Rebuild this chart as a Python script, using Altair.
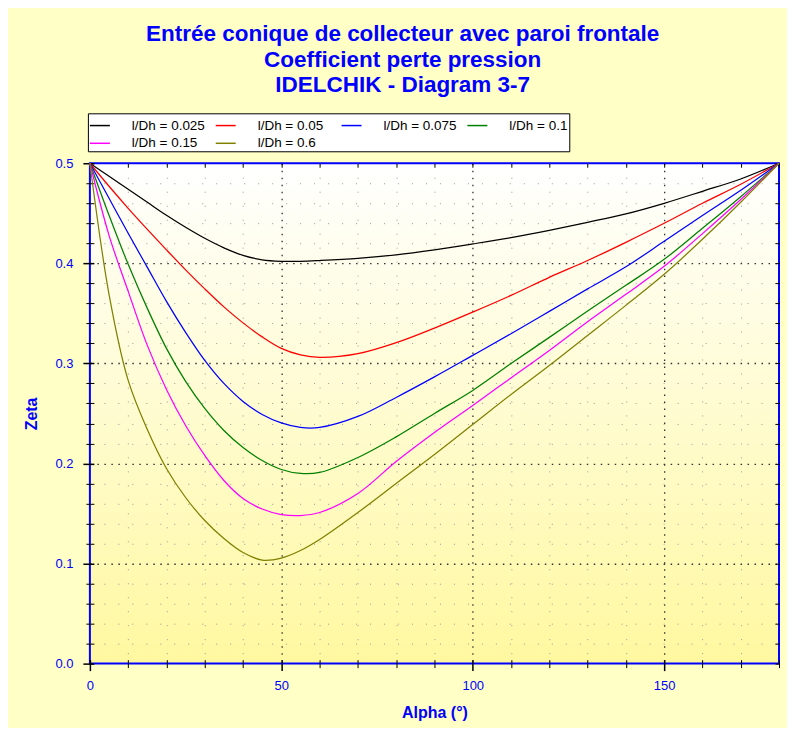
import altair as alt
import pandas as pd

# ---- data ----
alpha = [0, 5, 10, 15, 20, 25, 30, 35, 40, 45, 50, 55, 60, 70, 80, 90, 100, 110, 120, 130, 140, 150, 160, 170, 180]

series_names = ["l/Dh = 0.025", "l/Dh = 0.05", "l/Dh = 0.075", "l/Dh = 0.1", "l/Dh = 0.15", "l/Dh = 0.6"]

zeta_0025 = [0.5, 0.487, 0.474, 0.461, 0.448, 0.436, 0.425, 0.4155, 0.408, 0.4035, 0.402, 0.402, 0.4028, 0.405, 0.4085,
             0.4135, 0.4194, 0.4257, 0.433, 0.441, 0.4494, 0.46, 0.472, 0.4843, 0.5]
zeta_005 = [0.5, 0.477, 0.455, 0.434, 0.4135, 0.3935, 0.3745, 0.3565, 0.3405, 0.3265, 0.315, 0.3085, 0.306, 0.3097, 0.3207,
            0.3353, 0.3513, 0.368, 0.386, 0.4028, 0.421, 0.44, 0.46, 0.479, 0.5]
zeta_0075 = [0.5, 0.465, 0.43, 0.396, 0.362, 0.331, 0.303, 0.28, 0.262, 0.249, 0.2405, 0.236, 0.236, 0.247, 0.266,
             0.2865, 0.308, 0.3297, 0.352, 0.3745, 0.3965, 0.422, 0.4477, 0.473, 0.5]
zeta_01 = [0.5, 0.448, 0.399, 0.355, 0.315, 0.282, 0.255, 0.233, 0.216, 0.203, 0.194, 0.19, 0.191, 0.206, 0.2266,
           0.25, 0.273, 0.2998, 0.326, 0.3524, 0.378, 0.404, 0.435, 0.4666, 0.5]
zeta_015 = [0.5, 0.428, 0.372, 0.318, 0.274, 0.238, 0.208, 0.183, 0.165, 0.1545, 0.149, 0.148, 0.151, 0.17, 0.202,
            0.231, 0.258, 0.2855, 0.313, 0.3417, 0.369, 0.397, 0.4297, 0.4638, 0.5]
zeta_06 = [0.5, 0.369, 0.283, 0.234, 0.195, 0.166, 0.143, 0.125, 0.111, 0.1035, 0.1055, 0.113, 0.124, 0.151, 0.18,
           0.209, 0.239, 0.269, 0.298, 0.328, 0.358, 0.389, 0.424, 0.461, 0.5]

colors = ["#000000", "#FF0000", "#0000FF", "#008000", "#FF00FF", "#808000"]

x_ticks = list(range(0, 181, 10))
y_ticks = [round(i * 0.02, 2) for i in range(26)]

title_lines = ["Entrée conique de collecteur avec paroi frontale",
               "Coefficient perte pression",
               "IDELCHIK - Diagram 3-7"]

rows = []
for name, vals in zip(series_names, [zeta_0025, zeta_005, zeta_0075, zeta_01, zeta_015, zeta_06]):
    for a, z in zip(alpha, vals):
        rows.append({"alpha": a, "zeta": z, "series": name})
df = pd.DataFrame(rows)

BLUE = "#0000FF"
FONT = "Liberation Sans"

major_x = "datum.value % 50 === 0"
major_y = "abs(datum.value * 10 - round(datum.value * 10)) < 0.001"
edge_x = "datum.value === 0 || datum.value === 180"
edge_y = "datum.value === 0 || datum.value === 0.5"

x_scale = alt.Scale(domain=[0, 180], nice=False, zero=False)
y_scale = alt.Scale(domain=[0, 0.5], nice=False)

x_axis = alt.Axis(
    orient="bottom", values=x_ticks, domain=False, offset=-4,
    tickColor="black",
    tickSize={"condition": {"test": major_x, "value": 11}, "value": 8},
    tickWidth={"condition": {"test": major_x, "value": 1.5}, "value": 1},
    labelExpr="datum.value % 50 === 0 ? datum.label : ''",
    labelColor=BLUE, labelFont=FONT, labelFontSize=13, labelPadding=9,
    labelFlush=False,
    grid=True,
    gridColor={"condition": {"test": major_x, "value": "#333333"}, "value": "#9a9a9a"},
    gridDash={"condition": {"test": major_x, "value": [1.5, 5.5]}, "value": [1, 13]},
    gridWidth={"condition": {"test": major_x, "value": 1.3}, "value": 1},
    gridOpacity={"condition": {"test": edge_x, "value": 0}, "value": 1},
    title="Alpha (°)", titleColor=BLUE, titleFont=FONT, titleFontSize=16, titleFontWeight="bold",
    titlePadding=12,
)

y_axis = alt.Axis(
    orient="left", values=y_ticks, domain=False, offset=-4,
    tickColor="black",
    tickSize={"condition": {"test": major_y, "value": 11}, "value": 8},
    tickWidth={"condition": {"test": major_y, "value": 1.5}, "value": 1},
    labelExpr="(abs(datum.value * 10 - round(datum.value * 10)) < 0.001) ? format(datum.value, '.1f') : ''",
    labelColor=BLUE, labelFont=FONT, labelFontSize=13, labelPadding=10,
    labelFlush=False,
    grid=True,
    gridColor={"condition": {"test": major_y, "value": "#333333"}, "value": "#9a9a9a"},
    gridDash={"condition": {"test": major_y, "value": [1.5, 5.5]}, "value": [1, 13]},
    gridWidth={"condition": {"test": major_y, "value": 1.3}, "value": 1},
    gridOpacity={"condition": {"test": edge_y, "value": 0}, "value": 1},
    title="Zeta", titleColor=BLUE, titleFont=FONT, titleFontSize=16, titleFontWeight="bold",
    titlePadding=15,
)

lines = alt.Chart(df).mark_line(strokeWidth=1.25, interpolate="catmull-rom").encode(
    x=alt.X("alpha:Q", scale=x_scale, axis=x_axis),
    y=alt.Y("zeta:Q", scale=y_scale, axis=y_axis),
    color=alt.Color(
        "series:N", sort=series_names,
        scale=alt.Scale(domain=series_names, range=colors),
        legend=alt.Legend(
            orient="none", legendX=-2, legendY=-50, columns=4, direction="horizontal",
            gridAlign="all",
            title=None, fillColor="white", strokeColor="black", padding=1,
            symbolType="stroke", symbolSize=400, symbolStrokeWidth=1.5,
            labelFont=FONT, labelFontSize=13.5, labelColor="black",
            rowPadding=0, columnPadding=7, labelOffset=21,
        ),
    ),
    order=alt.Order("alpha:Q"),
)

mirror = alt.Chart(df).mark_line(opacity=0).encode(
    x=alt.X("alpha:Q", scale=x_scale,
            axis=alt.Axis(orient="top", values=x_ticks, domain=False, offset=-4, labels=False,
                          grid=False, tickColor="black", tickSize=4, title=None)),
    y=alt.Y("zeta:Q", scale=y_scale,
            axis=alt.Axis(orient="right", values=y_ticks, domain=False, offset=-4, labels=False,
                          grid=False, tickColor="black", tickSize=4, title=None)),
    detail="series:N",
)

chart = alt.layer(lines, mirror).resolve_axis(x="independent", y="independent").properties(
    width=690, height=501,
    autosize=alt.AutoSizeParams(type="none"),
    padding={"left": 82, "top": 155, "right": 8, "bottom": 64},
    background="#FFFFC6",
    title=alt.Title(title_lines, fontSize=22.5, font=FONT, fontWeight="bold", color=BLUE,
                    anchor="middle", lineHeight=25.5, offset=16, frame="bounds"),
).configure_view(
    fill={"expr": "{gradient: 'linear', x1: 0, y1: 0, x2: 0, y2: 1, stops: [{offset: 0, color: '#ffffff'}, {offset: 1, color: '#fff8a0'}]}"},
    stroke=BLUE, strokeWidth=2,
)

chart.save("out.html", embed_options={"renderer": "svg", "actions": False})
